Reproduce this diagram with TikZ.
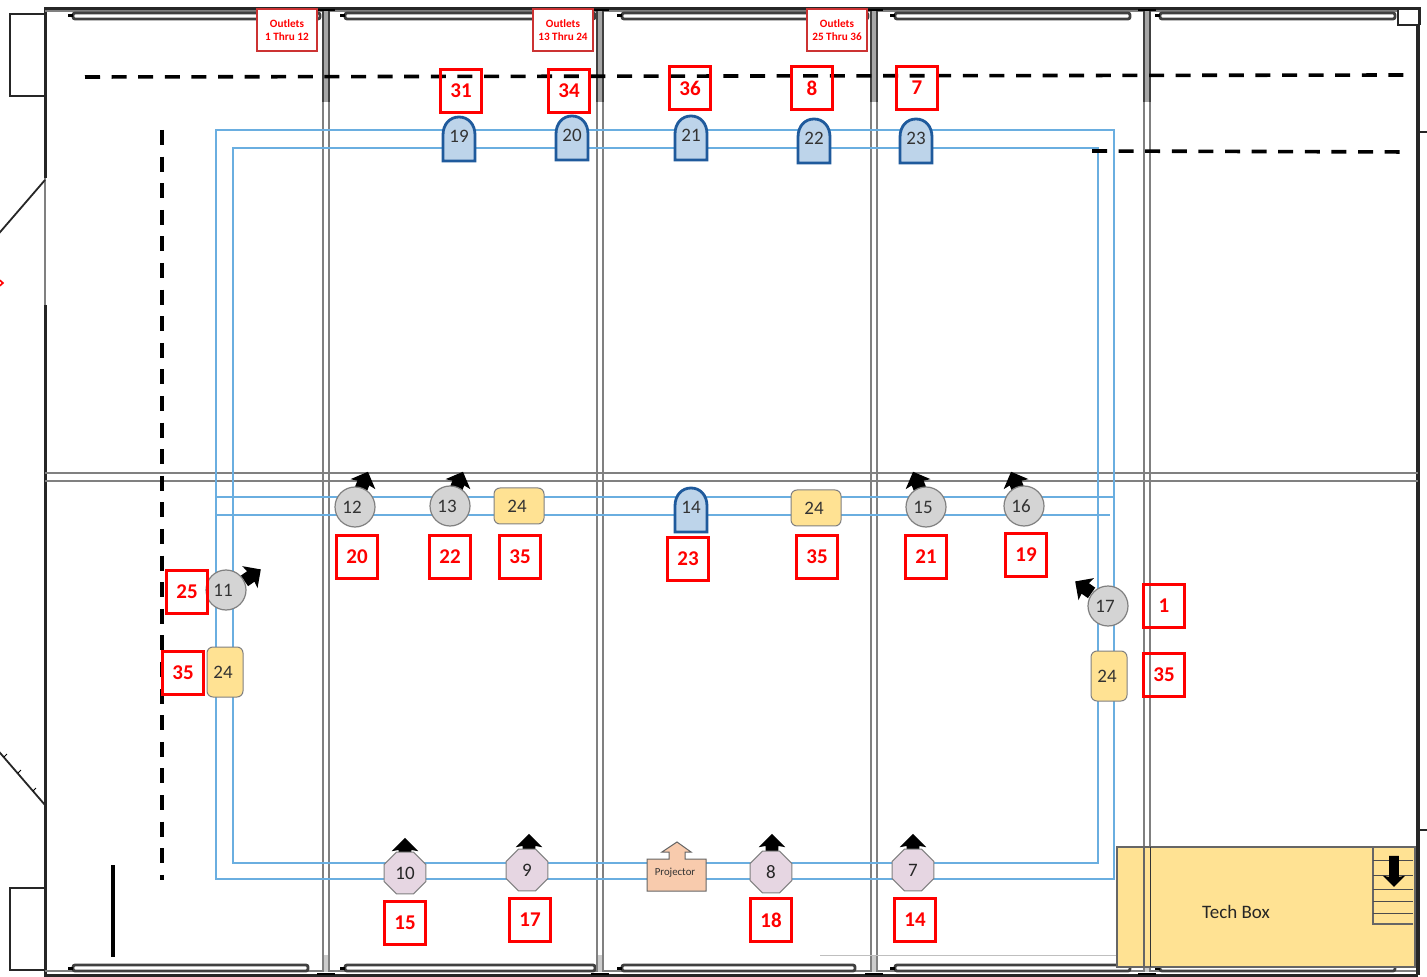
\documentclass[tikz,border=0pt]{standalone}
\usepackage{fontspec}
\setmainfont{Carlito}
\usepackage{xcolor}
\usetikzlibrary{shapes.geometric, shapes.arrows}
\definecolor{railblue}{HTML}{6AAEE0}
\definecolor{wingold}{HTML}{FFE293}
\definecolor{archfill}{HTML}{BDD4EA}
\definecolor{archline}{HTML}{1F5A9C}
\definecolor{octfill}{HTML}{E6D6E2}
\definecolor{peach}{HTML}{F8CBAD}
\tikzset{
    wall/.style={draw=black!85, line width=1.5pt},
    thinwall/.style={draw=black!50, line width=0.7pt},
    railbar/.style={draw=black!75, line width=1.4pt, fill=white, rounded corners=1pt},
    pipe/.style={draw=railblue, line width=0.55pt},
    longdash/.style={draw=black, line width=1.8pt, dash pattern=on 7.5pt off 5.8pt},
    redbox/.style={draw=red, line width=1.9pt, minimum width=20.5pt, minimum height=21.5pt, text=red, font=\fontsize{10.5}{10.5}\selectfont\bfseries, inner sep=0pt},
    outletbox/.style={draw=red!75!black!80!white, line width=0.7pt, fill=white, minimum width=30pt, minimum height=21pt, text=red, font=\fontsize{5.6}{6.5}\selectfont\bfseries, align=center, inner sep=0pt},
    goldbox/.style={draw=black!50, line width=0.5pt, fill=wingold, rounded corners=3pt, font=\fontsize{9.5}{9.5}\selectfont, text=black!80, inner sep=0pt, execute at begin node={\kern-2pt}},
    dim/.style={draw=black!50, line width=0.6pt, fill=black!17, circle, minimum size=20pt, font=\fontsize{9.5}{9.5}\selectfont, text=black!80, inner sep=0pt, execute at begin node={\kern-3pt}},
    oct/.style={draw=black!50, line width=0.5pt, fill=octfill, regular polygon, regular polygon sides=8, minimum size=22.5pt, font=\fontsize{9.5}{9.5}\selectfont, text=black!85, inner sep=0pt},
    blockarrow/.style={fill=black, single arrow, text height=6pt, text depth=0pt, text width=0.1pt, minimum height=10pt, single arrow head extend=3.5pt, single arrow head indent=0.6pt, inner sep=0pt, anchor=center}
}
\newcommand{\archnode}[4]{
    \draw[draw=archline, line width=1.4pt, fill=archfill] (#1-16,#2+22) -- (#1-16,#2-4) .. controls (#1-16,#2-15) and (#1-9,#2-22) .. (#1,#2-22) .. controls (#1+9,#2-22) and (#1+16,#2-15) .. (#1+16,#2-4) -- (#1+16,#2+22) -- cycle;
    \node[font=\fontsize{9.5}{9.5}\selectfont, text=black!80, inner sep=0pt] (#3) at (#1,#2-3) {#4};
}
\newcommand{\windowbar}[3]{
    \draw[railbar] (#1,#3-3) rectangle (#2,#3+3);
    \draw[line width=1.5pt] (#1-5,#3) -- (#1,#3);
}
\begin{document}
\begin{tikzpicture}[x=0.5pt, y=-0.5pt]
    \useasboundingbox (0,0) rectangle (1427,977);
    \fill[white] (0,0) rectangle (1427,977);
    % building outline
    \draw[wall] (45,178) -- (45,9) -- (1419,9) -- (1419,25);
    \draw[thinwall] (45,11) -- (1398,11);
    \draw[thinwall] (45,178) -- (45,305);
    \draw[wall] (45,305) -- (45,975) -- (1418,975);
    \draw[thinwall] (45,971) -- (1418,971);
    \draw[wall, line width=2pt] (1418,25) -- (1418,975);
    \draw[wall, line width=0.8pt] (1398,10) -- (1398,25) -- (1419,25);
    \draw[wall, line width=0.9pt] (1418,132) -- (1427,132);
    \draw[wall, line width=0.9pt] (1418,830) -- (1427,830);
    \draw[wall, line width=0.9pt] (45,14) -- (10,14) -- (10,96) -- (45,96);
    \draw[wall, line width=0.9pt] (45,888) -- (10,888) -- (10,970) -- (45,970);
    \draw[wall, line width=0.9pt] (45,180) -- (-5,238);
    \draw[wall, line width=0.9pt] (45,805) -- (-5,747);
    \draw[line width=0.5pt] (7,754) -- (4,757);
    \draw[line width=0.5pt] (21,770) -- (18,773);
    \draw[line width=0.5pt] (36,788) -- (33,791);
    \draw[red, line width=0.8pt] (-4,277) -- (3,283) -- (-4,289);
    % windows
    \windowbar{73}{320}{16}
    \windowbar{345}{595}{16}
    \windowbar{622}{868}{16}
    \windowbar{895}{1130}{16}
    \windowbar{1160}{1395}{16}
    \windowbar{73}{308}{968}
    \windowbar{345}{595}{968}
    \windowbar{622}{855}{968}
    \windowbar{895}{1130}{968}
    \windowbar{1160}{1395}{968}
    % columns and beam
    \foreach \cx in {323,597,871,1144} {
        \fill[black!35] (\cx,10) rectangle (\cx+6,102);
        \fill[black!20] (\cx,955) rectangle (\cx+6,972);
        \draw[thinwall] (\cx,10) -- (\cx,972);
        \draw[thinwall] (\cx+6,10) -- (\cx+6,972);
        \draw[draw=black!75, line width=1.2pt] (\cx,10) -- (\cx,102);
        \draw[draw=black!75, line width=1.2pt] (\cx+6,10) -- (\cx+6,102);
        \draw[line width=1.3pt] (\cx-6,10) -- (\cx+12,10);
        \draw[line width=1.3pt] (\cx-6,974) -- (\cx+12,974);
    }
    \draw[thinwall, line width=0.9pt] (45,473) -- (1418,473);
    \draw[thinwall, line width=0.9pt] (45,481) -- (1418,481);
    \draw[black!25, line width=0.4pt] (820,955) -- (1117,955);
    % truss
    \draw[pipe] (216,130) rectangle (1114,879);
    \draw[pipe] (233,148) rectangle (1098,863);
    \draw[pipe] (215,497) -- (1114,497);
    \draw[pipe] (216,515) -- (1110,515);
    % dashed lines
    \draw[longdash] (85,77) -- (1405,75);
    \draw[longdash] (1092,151) -- (1410,152);
    \draw[longdash] (162,130) -- (162,880);
    \draw[line width=1.6pt] (113,865) -- (113,957);
    % outlets
    \node[outletbox] (outleta) at (287,30) {Outlets\\1 Thru 12};
    \node[outletbox] (outletb) at (563,30) {Outlets\\13 Thru 24};
    \node[outletbox] (outletc) at (837,30) {Outlets\\25 Thru 36};
    % top row
    \archnode{459}{139}{n19}{19}
    \archnode{572}{138}{n20}{20}
    \archnode{691}{138}{n21}{21}
    \archnode{814}{141}{n22}{22}
    \archnode{916}{141}{n23}{23}
    \archnode{691}{510}{n14}{14}
    % arrows first, circles on top
    \node[blockarrow, rotate=68] (a12) at (363,484) {};
    \node[blockarrow, rotate=68] (a13) at (458,484) {};
    \node[blockarrow, rotate=112] (a15) at (918,484) {};
    \node[blockarrow, rotate=112] (a16) at (1016,484) {};
    \node[blockarrow, rotate=35] (a11) at (250,577) {};
    \node[blockarrow, rotate=145] (a17) at (1086,589) {};
    \node[blockarrow, rotate=90] (a10) at (405,851) {};
    \node[blockarrow, rotate=90] (a9) at (529,847) {};
    \node[blockarrow, rotate=90] (a8) at (772,847) {};
    \node[blockarrow, rotate=90] (a7) at (913,847) {};
    \node[dim] (n12) at (355,507) {12};
    \node[dim] (n13) at (450,506) {13};
    \node[dim] (n15) at (926,507) {15};
    \node[dim] (n16) at (1024,506) {16};
    \node[dim] (n11) at (226,590) {11};
    \node[dim] (n17) at (1108,606) {17};
    \node[oct] (n10) at (405,873) {10};
    \node[oct] (n9) at (527,870) {9};
    \node[oct] (n8) at (771,872) {8};
    \node[oct] (n7) at (913,870) {7};
    \node[goldbox, minimum width=25pt, minimum height=18pt] (g1) at (519,506) {24};
    \node[goldbox, minimum width=25pt, minimum height=18pt] (g2) at (816,508) {24};
    \node[goldbox, minimum width=18pt, minimum height=25pt] (g3) at (225,672) {24};
    \node[goldbox, minimum width=18pt, minimum height=25pt] (g4) at (1109,676) {24};
    % projector
    \draw[draw=black!60, line width=0.5pt, fill=peach] (647,859) -- (669,859) -- (669,852) -- (662,852) -- (677,842) -- (691,852) -- (685,852) -- (685,859) -- (706,859) -- (706,891) -- (647,891) -- cycle;
    \node[font=\fontsize{5.4}{5.4}\selectfont, text=black!80, inner sep=0pt] (proj) at (675,873) {Projector};
    % tech box
    \draw[draw=black!60, line width=0.6pt, fill=wingold] (1117,847) rectangle (1415,967);
    \draw[black!60, line width=0.7pt] (1144,847) -- (1144,967);
    \draw[black!80, line width=0.5pt] (1150,847) -- (1150,967);
    \draw[draw=black!60, line width=0.6pt] (1373,847) -- (1373,924) -- (1413,924);
    \foreach \sy in {860,875,889,901,913} {
        \draw[black!70, line width=0.5pt] (1373,\sy) -- (1413,\sy);
    }
    \node[blockarrow, rotate=-90, text height=4.5pt, minimum height=15.5pt, single arrow head extend=3.2pt] (stair) at (1394,869) {};
    \node[font=\fontsize{9.5}{9.5}\selectfont, text=black!85, inner sep=0pt] (tech) at (1236,912) {Tech Box};
    % red numbers
    \node[redbox] (r31) at (461,91) {31};
    \node[redbox] (r34) at (569,91) {34};
    \node[redbox] (r36) at (690,88) {36};
    \node[redbox] (r8) at (812,88) {8};
    \node[redbox] (r7) at (917,88) {7};
    \node[redbox] (r20) at (357,557) {20};
    \node[redbox] (r22) at (450,557) {22};
    \node[redbox] (r35a) at (520,557) {35};
    \node[redbox] (r23) at (688,559) {23};
    \node[redbox] (r35b) at (817,557) {35};
    \node[redbox] (r21) at (926,557) {21};
    \node[redbox] (r19) at (1026,555) {19};
    \node[redbox] (r25) at (187,592) {25};
    \node[redbox] (r35c) at (183,673) {35};
    \node[redbox] (r1) at (1164,606) {1};
    \node[redbox] (r35d) at (1164,675) {35};
    \node[redbox] (r15) at (405,923) {15};
    \node[redbox] (r17) at (530,920) {17};
    \node[redbox] (r18) at (771,920) {18};
    \node[redbox] (r14) at (915,920) {14};
\end{tikzpicture}
\end{document}
